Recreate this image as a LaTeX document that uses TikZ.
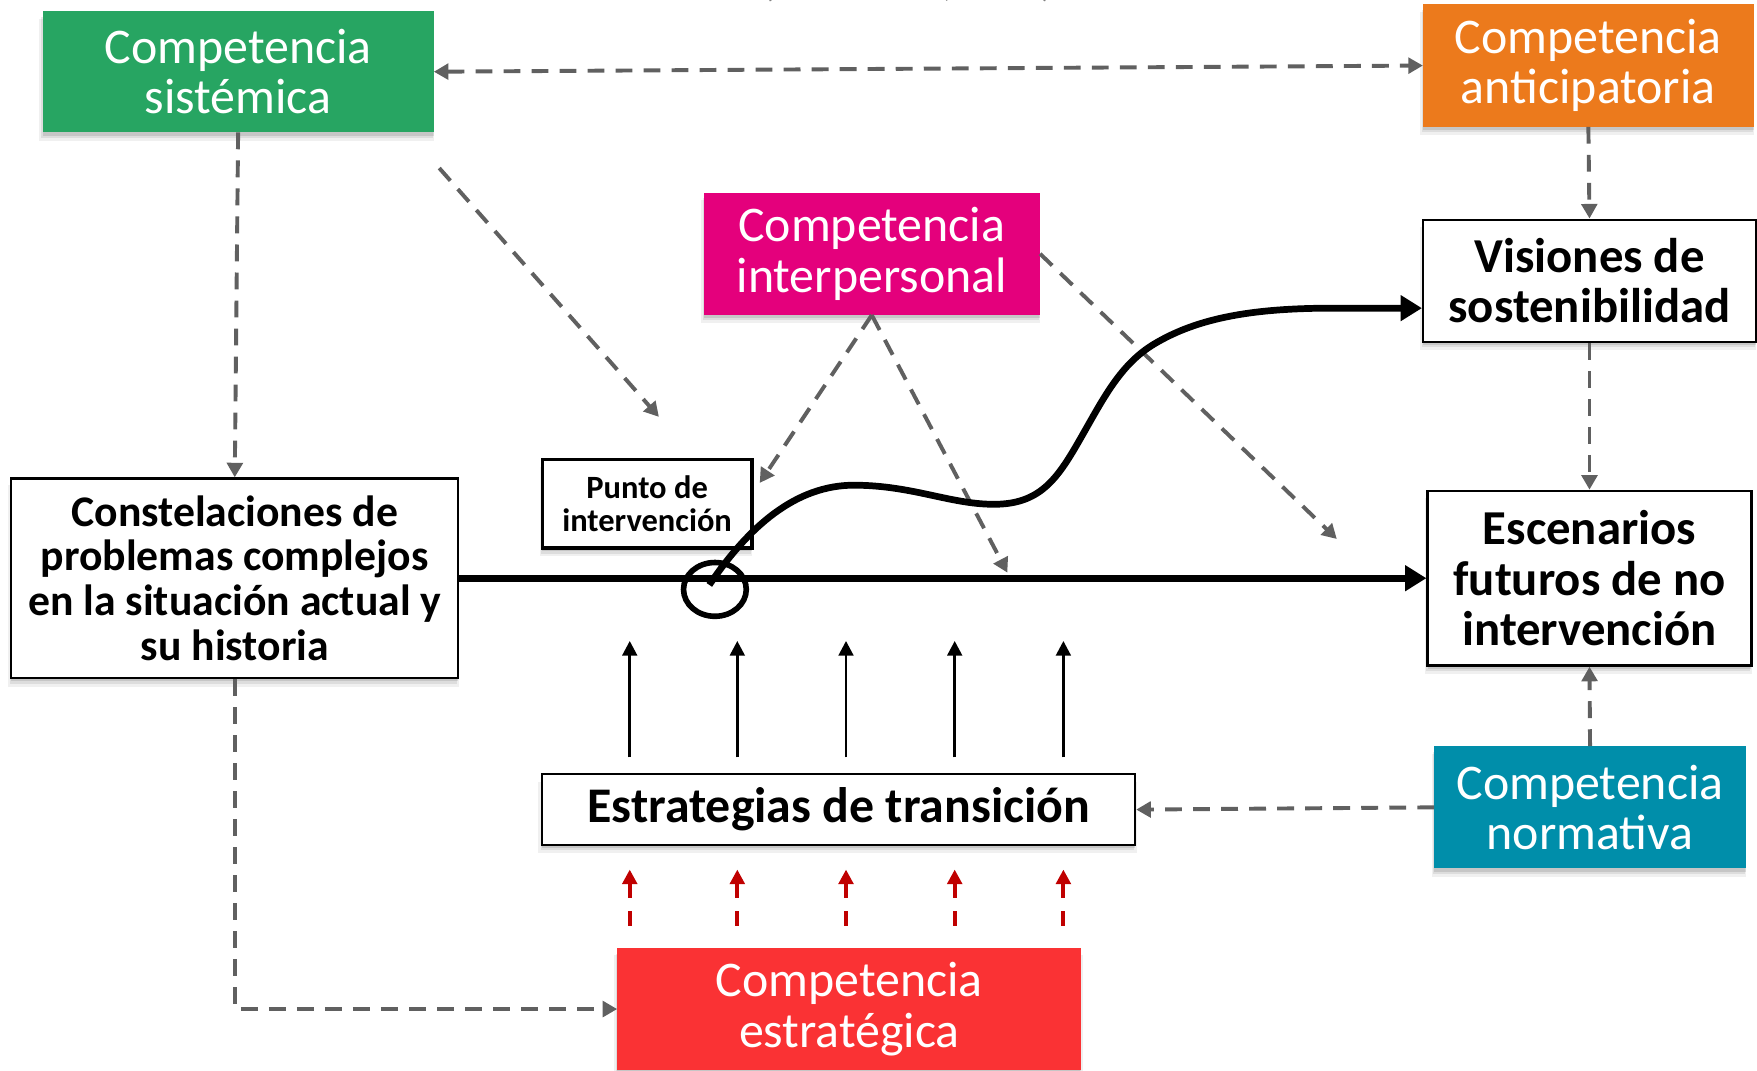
\documentclass[tikz,border=0pt]{standalone}
\usepackage{fontspec}
\setmainfont{Carlito}
\usetikzlibrary{arrows.meta,shadows,calc}
\definecolor{cgreen}{RGB}{39,165,98}
\definecolor{corange}{RGB}{236,122,28}
\definecolor{cmagenta}{RGB}{228,0,124}
\definecolor{cteal}{RGB}{0,142,170}
\definecolor{cred}{RGB}{250,50,52}
\definecolor{cgray}{RGB}{96,96,96}
\definecolor{cdarkred}{RGB}{192,0,0}
\definecolor{ccite}{RGB}{127,127,127}
\tikzset{
  softshadow/.style={
    drop shadow={shadow xshift=-1pt,shadow yshift=-7pt,shadow scale=1.01,opacity=0.06,fill=black},
    drop shadow={shadow xshift=-1pt,shadow yshift=-5pt,opacity=0.08,fill=black},
    drop shadow={shadow xshift=0pt,shadow yshift=-3pt,opacity=0.10,fill=black}},
  colbox/.style={rectangle, inner sep=0pt, align=center, text=white,
    font=\fontsize{44.5}{45}\selectfont, softshadow},
  whbox/.style={rectangle, draw=black, line width=2pt, fill=white, inner sep=0pt,
    align=center, font=\fontsize{43.5}{45}\selectfont\bfseries, softshadow},
  gdash/.style={draw=cgray, line width=3.5pt, dash pattern=on 15pt off 10pt,
    -{Triangle[length=13pt,width=14pt]}},
  gdashboth/.style={gdash, {Triangle[length=13pt,width=14pt]}-{Triangle[length=13pt,width=14pt]}},
  thickarrow/.style={draw=black, line width=6pt, -{Triangle[length=19pt,width=22pt]}},
  thinarrow/.style={draw=black, line width=2.5pt, -{Triangle[length=13pt,width=13pt]}},
  reddash/.style={draw=cdarkred, line width=3.4pt, dash pattern=on 13pt off 12pt,
    -{Triangle[length=13pt,width=13pt]}}
}
\begin{document}
\begin{tikzpicture}[x=1pt,y=-1pt]
\useasboundingbox[fill=white] (0,0) rectangle (1568,955);

% cut-off citation at the top edge (only its descenders show)
\node[anchor=base west, inner sep=0pt, text=ccite, font=\fontsize{35}{40}\selectfont] (cite) at (680,-3) {(Wiek et al., 2011)};

% coloured competence boxes
\node[colbox, fill=cgreen, minimum width=349pt, minimum height=108pt] (sis) at (212.5,64) {Competencia\\sistémica};
\node[colbox, fill=corange, minimum width=295pt, minimum height=109pt] (ant) at (1417.5,58.5) {Competencia\\anticipatoria};
\node[colbox, fill=cmagenta, minimum width=300pt, minimum height=109pt] (int) at (778,226.5) {Competencia\\interpersonal};
\node[colbox, fill=cteal, minimum width=278pt, minimum height=109pt] (nor) at (1419,720.5) {Competencia\\normativa};
\node[colbox, fill=cred, minimum width=414pt, minimum height=109pt] (est) at (758,900.5) {Competencia\\estratégica};

% white boxes
\node[whbox, minimum width=297pt, minimum height=109pt] (vis) at (1418.5,250.5) {Visiones de\\sostenibilidad};
\node[whbox, minimum width=289pt, minimum height=156pt] (esc) at (1418.5,516) {Escenarios\\futuros de no\\intervención};
\node[whbox, minimum width=399pt, minimum height=178pt, font=\fontsize{39}{40}\selectfont\bfseries] (con) at (209.5,516) {Constelaciones de\\problemas complejos\\en la situación actual y\\su historia};
\node[whbox, line width=3pt, minimum width=187pt, minimum height=79pt, font=\fontsize{29}{30}\selectfont\bfseries] (pun) at (577.5,449.5) {Punto de\\intervención};
\node[whbox, minimum width=529pt, minimum height=63pt, font=\fontsize{44.5}{45}\selectfont\bfseries] (tra) at (748.5,722.5) {Estrategias de transición};

% free connector ends
\coordinate (d1s) at (392,150);
\coordinate (d1e) at (588,372);
\coordinate (i1) at (678,431);
\coordinate (i2) at (899,511);
\coordinate (i3) at (1193,481);
\coordinate (cstart) at (633,522);
\coordinate (vend) at ($(vis.west)+(0,24.5)$);

% dashed grey connectors
\draw[gdashboth] (sis.east) -- (ant.west);
\draw[gdash] (sis.south) -- (con.north);
\draw[gdash] (d1s) -- (d1e);
\draw[gdash] (int.south) -- (i1);
\draw[gdash] (int.south) -- (i2);
\draw[gdash] (int.east) -- (i3);
\draw[gdash] (ant.south) -- (vis.north);
\draw[gdash] (vis.south) -- (esc.north);
\draw[gdash] (nor.north) -- (esc.south);
\draw[gdash] (nor.west) -- (tra.east);
\draw[gdash] (con.south) |- (est.west);

% main line and intervention curve
\draw[thickarrow] (con.east) -- (esc.west);
\draw[thickarrow] (cstart) .. controls (668,470) and (710,433) .. (762,433)
  .. controls (815,433) and (850,451) .. (890,450)
  .. controls (930,449) and (945,425) .. (965,390)
  .. controls (985,355) and (1000,325) .. (1030,307)
  .. controls (1070,283) and (1120,275) .. (1190,275) -- (vend);
\draw[line width=5pt] (638,526) ellipse [x radius=28, y radius=24];

% arrows from strategies and from strategic competence
\foreach \i/\x in {1/562,2/658,3/755,4/852,5/949}{
  \coordinate (b\i) at (\x,676);
  \coordinate (t\i) at (\x,572);
  \draw[thinarrow] (b\i) -- (t\i);
  \coordinate (rb\i) at (\x,826);
  \coordinate (rt\i) at (\x,776);
  \draw[reddash] (rb\i) -- (rt\i);
}
\end{tikzpicture}
\end{document}
